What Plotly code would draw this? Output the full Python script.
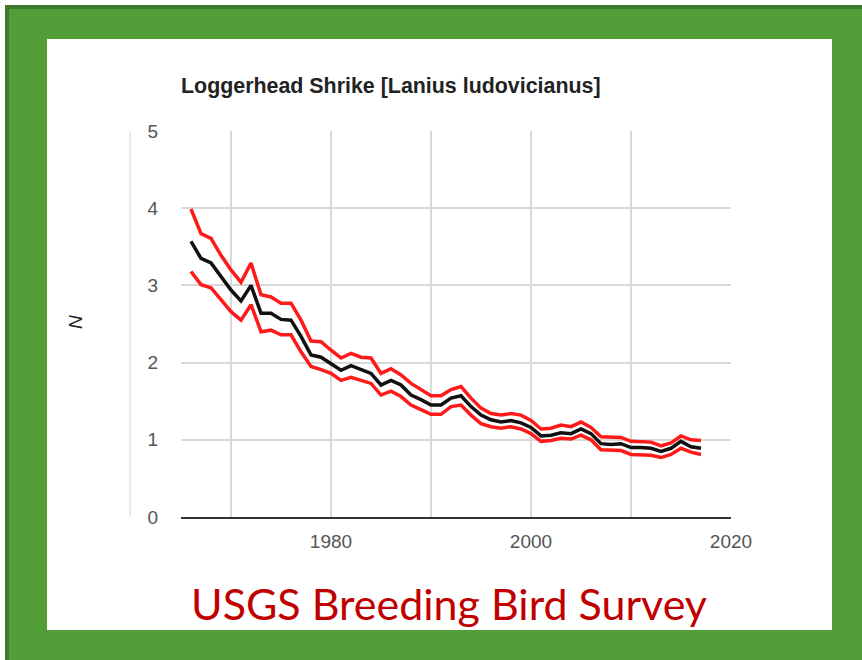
import plotly.graph_objects as go

# ---- data ----
years = list(range(1966, 2018))
index_mid = [3.57, 3.35, 3.29, 3.11, 2.94, 2.80, 3.00, 2.64, 2.64, 2.56, 2.55,
             2.34, 2.10, 2.07, 1.99, 1.90, 1.96, 1.91, 1.86, 1.71, 1.77,
             1.71, 1.58, 1.52, 1.45, 1.45, 1.54, 1.57, 1.43, 1.32, 1.26,
             1.23, 1.25, 1.22, 1.16, 1.05, 1.06, 1.09, 1.08, 1.14, 1.08,
             0.95, 0.94, 0.95, 0.90, 0.90, 0.89, 0.85, 0.89, 0.98, 0.91, 0.89]
index_upper = [3.99, 3.67, 3.61, 3.39, 3.20, 3.04, 3.29, 2.88, 2.85, 2.77, 2.77,
               2.55, 2.28, 2.27, 2.16, 2.06, 2.12, 2.07, 2.06, 1.86, 1.92,
               1.84, 1.73, 1.65, 1.57, 1.57, 1.65, 1.69, 1.54, 1.41, 1.34,
               1.32, 1.34, 1.32, 1.25, 1.14, 1.15, 1.19, 1.17, 1.23, 1.16,
               1.04, 1.03, 1.03, 0.98, 0.98, 0.97, 0.92, 0.96, 1.05, 1.00, 0.99]
index_lower = [3.18, 3.01, 2.97, 2.81, 2.66, 2.55, 2.75, 2.40, 2.42, 2.36, 2.36,
               2.14, 1.95, 1.91, 1.86, 1.77, 1.81, 1.77, 1.73, 1.58, 1.63,
               1.56, 1.45, 1.39, 1.33, 1.33, 1.43, 1.45, 1.32, 1.21, 1.17,
               1.15, 1.17, 1.14, 1.08, 0.98, 0.99, 1.02, 1.01, 1.06, 1.00,
               0.87, 0.86, 0.86, 0.81, 0.81, 0.80, 0.77, 0.81, 0.89, 0.84, 0.81]
x_tickvals = [1970, 1980, 1990, 2000, 2010, 2020]
x_ticktext = ["", "1980", "", "2000", "", "2020"]
y_tickvals = [0, 1, 2, 3, 4, 5]

title_text = "Loggerhead Shrike [Lanius ludovicianus]"
y_title = "N"
footer_text = "USGS Breeding Bird Survey"

# ---- geometry helpers (pixel -> paper) ----
W, H = 862, 660
L, R, T, B = 181, 731, 131, 517


def px(x):
    return (x - L) / (R - L)


def py(y):
    return (B - y) / (B - T)


fig = go.Figure()
fig.add_trace(go.Scatter(x=years, y=index_upper, mode="lines",
                         line=dict(color="#ff1a1a", width=3.5), showlegend=False))
fig.add_trace(go.Scatter(x=years, y=index_lower, mode="lines",
                         line=dict(color="#ff1a1a", width=3.5), showlegend=False))
fig.add_trace(go.Scatter(x=years, y=index_mid, mode="lines",
                         line=dict(color="#111111", width=3.5), showlegend=False))

shapes = [
    # white strips at outer top/left
    dict(type="rect", xref="paper", yref="paper", x0=px(0), x1=px(W), y0=py(0), y1=py(5),
         fillcolor="white", line_width=0, layer="below"),
    dict(type="rect", xref="paper", yref="paper", x0=px(0), x1=px(5), y0=py(0), y1=py(H),
         fillcolor="white", line_width=0, layer="below"),
    # dark green frame edges
    dict(type="rect", xref="paper", yref="paper", x0=px(5), x1=px(W), y0=py(5), y1=py(9),
         fillcolor="#3f7a2c", line_width=0, layer="below"),
    dict(type="rect", xref="paper", yref="paper", x0=px(5), x1=px(9), y0=py(5), y1=py(H),
         fillcolor="#3f7a2c", line_width=0, layer="below"),
    # white panel
    dict(type="rect", xref="paper", yref="paper", x0=px(47), x1=px(832), y0=py(39), y1=py(630),
         fillcolor="white", line_width=0, layer="below"),
    # faint vertical line left of y labels
    dict(type="line", xref="paper", yref="paper", x0=px(130), x1=px(130), y0=py(131), y1=py(517),
         line=dict(color="#e4e4e4", width=1.5), layer="below"),
]

annotations = [
    dict(text="<b>" + title_text + "</b>", xref="paper", yref="paper", x=px(179), y=py(86),
         xanchor="left", yanchor="middle", showarrow=False,
         font=dict(family="Liberation Sans, Arial", size=21.4, color="#222222")),
    dict(text=y_title, xref="paper", yref="paper", x=px(75), y=py(322),
         xanchor="center", yanchor="middle", showarrow=False, textangle=-90,
         font=dict(family="Liberation Sans, Arial", size=19, color="#222222", style="italic")),
    dict(text=footer_text, xref="paper", yref="paper", x=px(449), y=py(603),
         xanchor="center", yanchor="middle", showarrow=False,
         font=dict(family="Lato, Open Sans", size=43, color="#c00000")),
]

fig.update_layout(
    width=W, height=H,
    margin=dict(l=L, r=W - R, t=T, b=H - B, pad=0),
    paper_bgcolor="#549e3a",
    plot_bgcolor="white",
    shapes=shapes,
    annotations=annotations,
    showlegend=False,
)
fig.update_xaxes(range=[1965, 2020], tickvals=x_tickvals, ticktext=x_ticktext,
                 showgrid=True, gridcolor="#d9d9d9", gridwidth=1.5,
                 showline=True, linecolor="#333333", linewidth=2,
                 ticks="outside", ticklen=6, tickcolor="rgba(0,0,0,0)",
                 tickfont=dict(family="Liberation Sans, Arial", size=19, color="#555555"),
                 zeroline=False, fixedrange=True)
fig.update_yaxes(range=[0, 5], tickvals=y_tickvals,
                 showgrid=True, gridcolor="#d9d9d9", gridwidth=1.5,
                 showline=False, zeroline=False,
                 ticks="outside", ticklen=18, tickcolor="rgba(0,0,0,0)",
                 tickfont=dict(family="Liberation Sans, Arial", size=19, color="#555555"),
                 fixedrange=True)

fig.write_html("out.html", config={"displayModeBar": False},
               post_script="document.body.style.margin='0';document.body.style.overflow='hidden';")
